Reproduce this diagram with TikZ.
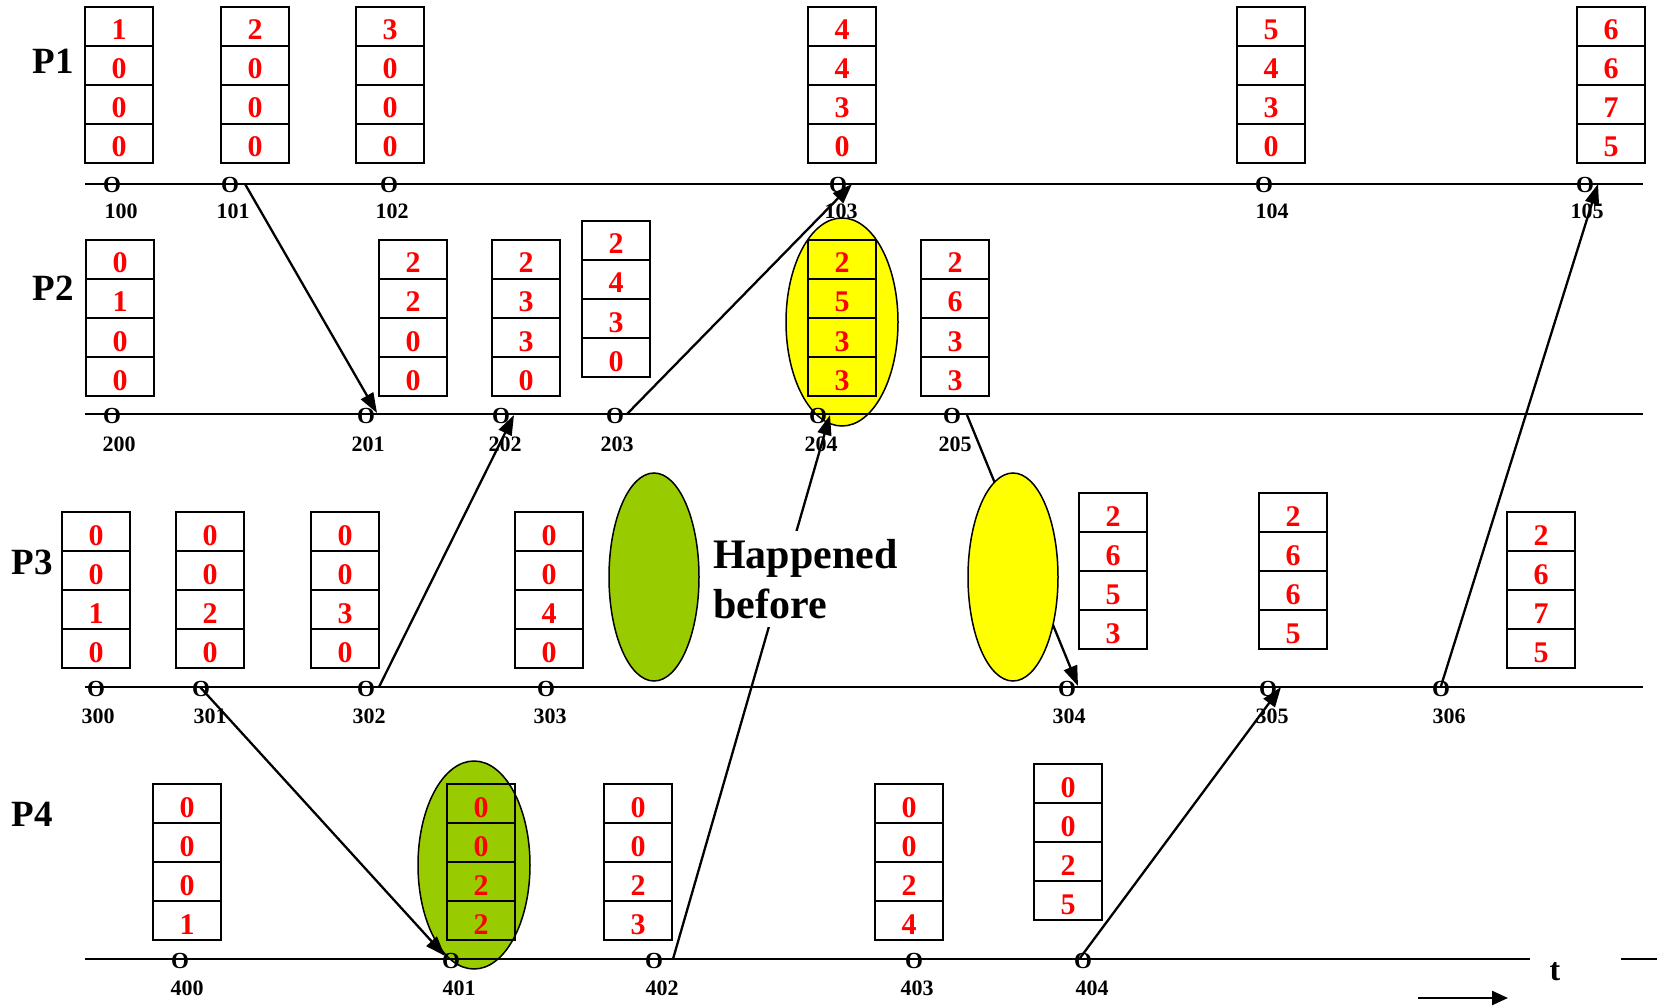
\documentclass[tikz,border=0pt]{standalone}
\usepackage{fontspec}
\setmainfont{Liberation Serif}
\usetikzlibrary{arrows.meta,shapes.geometric}

% A vector-clock box: name, left x, top y, four entries (top to bottom)
\newcommand\clockbox[7]{%
  \foreach \v [count=\k] in {#4,#5,#6,#7} {
    \node[cell] (#1-\k) at ({#2+34},{#3+19.5+39*(\k-1)}) {\v};
  }%
}

\definecolor{hlyellow}{HTML}{FFFF00}
\definecolor{hlgreen}{HTML}{99CC00}

\tikzset{
  cell/.style={draw, line width=2.4pt, minimum width=68pt, minimum height=39pt,
    inner sep=0pt, text=red, font=\fontsize{30}{30}\selectfont\bfseries,
    text height=27pt, text depth=0pt},
  evt/.style={font=\fontsize{23}{23}\selectfont\bfseries, inner sep=0pt},
  lbl/.style={font=\fontsize{22}{22}\selectfont\bfseries, inner sep=0pt},
  proc/.style={font=\fontsize{37}{37}\selectfont\bfseries, inner sep=0pt},
  timeline/.style={line width=2.6pt},
  msg/.style={line width=2.3pt, -{Triangle[length=20pt,width=14pt]}},
  blob/.style={ellipse, draw, line width=1.5pt, inner sep=0pt},
  note/.style={font=\fontsize{42}{50}\selectfont\bfseries, align=left,
    fill=white, inner xsep=2pt, inner ysep=8pt},
}

\begin{document}
\begin{tikzpicture}[x=1pt, y=-1pt]
\fill[white] (0,0) rectangle (1657,1008);
\useasboundingbox (0,0) rectangle (1657,1008);

% message end points
\coordinate (s101) at (245,184);  \coordinate (r201) at (377,413);
\coordinate (s203) at (627,414);  \coordinate (r103) at (852,184);
\coordinate (s302) at (379,687);  \coordinate (r202) at (514,415);
\coordinate (s301) at (200,687);  \coordinate (r401) at (445,956);
\coordinate (s402) at (673,959);  \coordinate (r204) at (830,415);
\coordinate (s205) at (967,415);  \coordinate (r304) at (1078,686);
\coordinate (s404) at (1080,958); \coordinate (r305) at (1281,687);
\coordinate (s306) at (1441,686); \coordinate (r105) at (1598,184);

% this message passes behind the yellow highlight on P3
\draw[msg] (s205) -- (r304);

% highlighted events
\node[blob, fill=hlyellow, minimum width=112pt, minimum height=208pt] (h204) at (842,322) {};
\node[blob, fill=hlgreen,  minimum width=90pt,  minimum height=208pt] (h3g)  at (654,577) {};
\node[blob, fill=hlyellow, minimum width=90pt,  minimum height=208pt] (h3y)  at (1013,577) {};
\node[blob, fill=hlgreen,  minimum width=112pt, minimum height=208pt] (h401) at (474,865) {};

% process names
\node[proc] (P1) at (53,61) {P1};
\node[proc] (P2) at (53,288) {P2};
\node[proc] (P3) at (32,562) {P3};
\node[proc] (P4) at (32,814) {P4};

% vector clocks, process P1
\clockbox{c100}{85}{7}{1}{0}{0}{0}
\clockbox{c101}{221}{7}{2}{0}{0}{0}
\clockbox{c102}{356}{7}{3}{0}{0}{0}
\clockbox{c103}{808}{7}{4}{4}{3}{0}
\clockbox{c104}{1237}{7}{5}{4}{3}{0}
\clockbox{c105}{1577}{7}{6}{6}{7}{5}
% process P2
\clockbox{c200}{86}{240}{0}{1}{0}{0}
\clockbox{c201}{379}{240}{2}{2}{0}{0}
\clockbox{c202}{492}{240}{2}{3}{3}{0}
\clockbox{c203}{582}{221}{2}{4}{3}{0}
\clockbox{c204}{808}{240}{2}{5}{3}{3}
\clockbox{c205}{921}{240}{2}{6}{3}{3}
% process P3
\clockbox{c300}{62}{512}{0}{0}{1}{0}
\clockbox{c301}{176}{512}{0}{0}{2}{0}
\clockbox{c302}{311}{512}{0}{0}{3}{0}
\clockbox{c303}{515}{512}{0}{0}{4}{0}
\clockbox{c304}{1079}{493}{2}{6}{5}{3}
\clockbox{c305}{1259}{493}{2}{6}{6}{5}
\clockbox{c306}{1507}{512}{2}{6}{7}{5}
% process P4
\clockbox{c400}{153}{784}{0}{0}{0}{1}
\clockbox{c401}{447}{784}{0}{0}{2}{2}
\clockbox{c402}{604}{784}{0}{0}{2}{3}
\clockbox{c403}{875}{784}{0}{0}{2}{4}
\clockbox{c404}{1034}{764}{0}{0}{2}{5}

% time lines
\draw[timeline] (85,184) -- (1643,184);
\draw[timeline] (85,414) -- (1643,414);
\draw[timeline] (85,687) -- (1643,687);
\draw[timeline] (85,959) -- (1530,959);
\draw[timeline] (1621,959) -- (1657,959);

% events on P1
\foreach \n/\x/\lx in {100/112/121, 101/230/233, 102/389/392, 103/838/841, 104/1264/1272, 105/1585/1587} {
  \node[evt] (e\n) at (\x,185) {O};
  \node[lbl] (l\n) at (\lx,211) {\n};
}
% events on P2
\foreach \n/\x/\lx in {200/112/119, 201/366/368, 202/501/505, 203/615/617, 204/818/821, 205/952/955} {
  \node[evt] (e\n) at (\x,416) {O};
  \node[lbl] (l\n) at (\lx,444) {\n};
}
% events on P3
\foreach \n/\x/\lx in {300/96/98, 301/201/210, 302/366/369, 303/546/550, 304/1067/1069, 305/1268/1272, 306/1441/1449} {
  \node[evt] (e\n) at (\x,689) {O};
  \node[lbl] (l\n) at (\lx,716) {\n};
}
% events on P4
\foreach \n/\x/\lx in {400/180/187, 401/451/459, 402/654/662, 403/914/917, 404/1083/1092} {
  \node[evt] (e\n) at (\x,961) {O};
  \node[lbl] (l\n) at (\lx,988) {\n};
}

% messages
\draw[msg] (s101) -- (r201);
\draw[msg] (s203) -- (r103);
\draw[msg] (s302) -- (r202);
\draw[msg] (s301) -- (r401);
\draw[msg] (s402) -- (r204);
\draw[msg] (s404) -- (r305);
\draw[msg] (s306) -- (r105);

% annotation, set over the message line it labels
\node[note, anchor=north west] (hb) at (711,531) {Happened\\before};

% time axis
\node[font=\fontsize{32}{32}\selectfont\bfseries, inner sep=0pt] (tlabel) at (1555,972) {t};
\coordinate (t0) at (1418,998);
\coordinate (t1) at (1508,998);
\draw[line width=2.4pt, -{Triangle[length=16pt,width=14pt]}] (t0) -- (t1);
\end{tikzpicture}
\end{document}
